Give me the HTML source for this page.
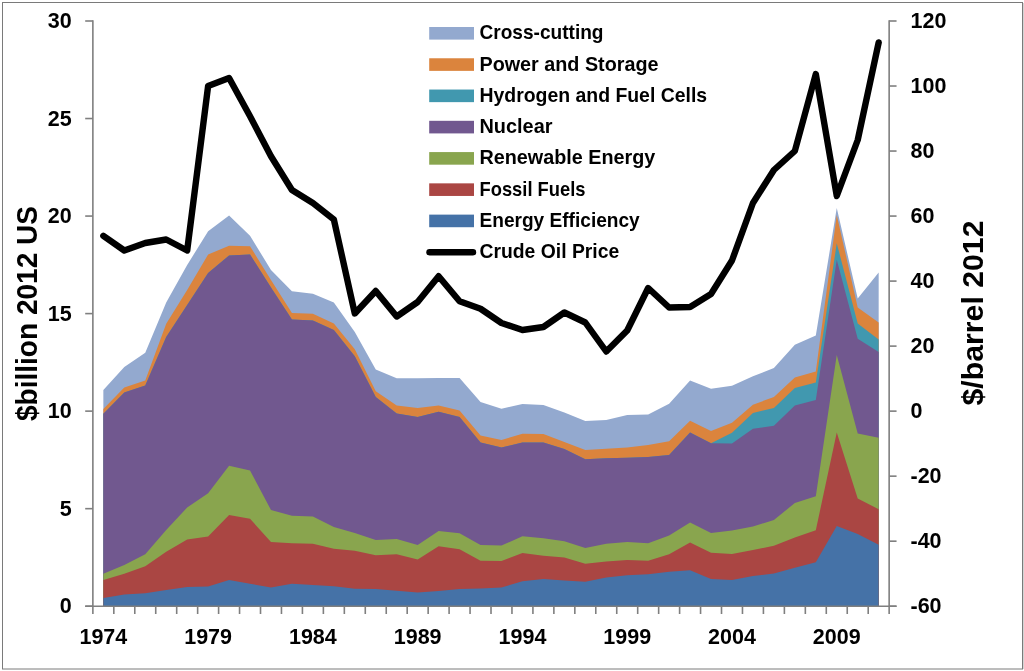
<!DOCTYPE html>
<html><head><meta charset="utf-8"><style>
html,body{margin:0;padding:0;background:#fff;}
body{width:1024px;height:671px;overflow:hidden;font-family:"Liberation Sans",sans-serif;}
svg{display:block;will-change:transform;}
</style></head><body>
<svg width="1024" height="671" viewBox="0 0 1024 671">
<rect x="0" y="0" width="1024" height="671" fill="#fff"/>
<rect x="2.5" y="2.5" width="1020" height="666.5" fill="#fff" stroke="#7a7a7a" stroke-width="1"/>
<rect x="1023" y="3" width="1" height="666" fill="#d4d4d4"/>
<path d="M103.35 390 L124.3 367 L145.26 352.75 L166.21 302.5 L187.17 265 L208.12 231.25 L229.08 215.5 L250.03 235.75 L270.99 270 L291.94 291.25 L312.89 293.75 L333.85 302.5 L354.8 332 L375.76 369.5 L396.71 378.25 L417.67 378.25 L438.62 378 L459.58 378 L480.53 402 L501.49 408.75 L522.44 404 L543.4 405 L564.35 412.5 L585.31 421 L606.26 420 L627.22 415 L648.17 414.5 L669.13 403.75 L690.08 380.5 L711.03 388.75 L731.99 385.75 L752.94 376.25 L773.9 368 L794.85 344.8 L815.81 335.6 L836.76 208.1 L857.72 298.6 L878.67 272.5 L878.67 606.2 L103.35 606.2Z" fill="#93A9CF"/>
<path d="M103.35 409 L124.3 387.5 L145.26 380.5 L166.21 323.75 L187.17 290 L208.12 254.5 L229.08 245.75 L250.03 246.25 L270.99 280 L291.94 313 L312.89 313.75 L333.85 323.5 L354.8 349.3 L375.76 391.25 L396.71 405.5 L417.67 408 L438.62 405.5 L459.58 410.5 L480.53 435.5 L501.49 440 L522.44 433.75 L543.4 434 L564.35 442 L585.31 450 L606.26 448.75 L627.22 447.5 L648.17 445 L669.13 441.25 L690.08 420.75 L711.03 431 L731.99 422.7 L752.94 404.7 L773.9 397 L794.85 377.5 L815.81 371.6 L836.76 215.1 L857.72 307.5 L878.67 322.5 L878.67 606.2 L103.35 606.2Z" fill="#DB843D"/>
<path d="M103.35 413.75 L124.3 392.5 L145.26 385.5 L166.21 337 L187.17 305 L208.12 273 L229.08 255.5 L250.03 254.5 L270.99 287.5 L291.94 319.5 L312.89 320.5 L333.85 330 L354.8 356.25 L375.76 397 L396.71 413.5 L417.67 417 L438.62 411.75 L459.58 417 L480.53 442.5 L501.49 447.5 L522.44 442.5 L543.4 442.5 L564.35 449 L585.31 459.3 L606.26 458.25 L627.22 457.75 L648.17 457 L669.13 455 L690.08 432.5 L711.03 443.2 L731.99 432.7 L752.94 413 L773.9 408 L794.85 388 L815.81 382.5 L836.76 243.3 L857.72 323.6 L878.67 339.4 L878.67 606.2 L103.35 606.2Z" fill="#4198AF"/>
<path d="M103.35 413.75 L124.3 392.5 L145.26 385.5 L166.21 337 L187.17 305 L208.12 273 L229.08 255.5 L250.03 254.5 L270.99 287.5 L291.94 319.5 L312.89 320.5 L333.85 330 L354.8 356.25 L375.76 397 L396.71 413.5 L417.67 417 L438.62 411.75 L459.58 417 L480.53 442.5 L501.49 447.5 L522.44 442.5 L543.4 442.5 L564.35 449 L585.31 459.3 L606.26 458.25 L627.22 457.75 L648.17 457 L669.13 455 L690.08 432.5 L711.03 443.2 L731.99 443.4 L752.94 428.75 L773.9 425.75 L794.85 405.5 L815.81 400 L836.76 259.8 L857.72 338.8 L878.67 351.9 L878.67 606.2 L103.35 606.2Z" fill="#71588F"/>
<path d="M103.35 573.75 L124.3 565 L145.26 554.25 L166.21 530 L187.17 507.5 L208.12 493.25 L229.08 465.75 L250.03 470.5 L270.99 510 L291.94 515.75 L312.89 516.5 L333.85 527 L354.8 533 L375.76 540 L396.71 539 L417.67 545 L438.62 531 L459.58 533.25 L480.53 545 L501.49 545.5 L522.44 536.25 L543.4 538.25 L564.35 541.25 L585.31 548 L606.26 543.75 L627.22 542 L648.17 543.25 L669.13 535.5 L690.08 522.5 L711.03 533 L731.99 530.5 L752.94 526.5 L773.9 520 L794.85 503 L815.81 496.2 L836.76 355.1 L857.72 433.4 L878.67 437.8 L878.67 606.2 L103.35 606.2Z" fill="#89A54E"/>
<path d="M103.35 580 L124.3 573.75 L145.26 566.25 L166.21 551.75 L187.17 539.5 L208.12 536.5 L229.08 515 L250.03 518.75 L270.99 542 L291.94 543.25 L312.89 543.75 L333.85 548.75 L354.8 550.75 L375.76 555.25 L396.71 554.25 L417.67 559.5 L438.62 546.25 L459.58 549.25 L480.53 560.75 L501.49 561 L522.44 553 L543.4 555.75 L564.35 557.5 L585.31 563.75 L606.26 561.5 L627.22 560 L648.17 560.75 L669.13 554.25 L690.08 542.5 L711.03 552.75 L731.99 554 L752.94 550 L773.9 545.7 L794.85 537.5 L815.81 530.2 L836.76 432.5 L857.72 498.4 L878.67 509.2 L878.67 606.2 L103.35 606.2Z" fill="#AA4643"/>
<path d="M103.35 598 L124.3 594.5 L145.26 593.25 L166.21 590 L187.17 587 L208.12 586.5 L229.08 580 L250.03 583.75 L270.99 587.5 L291.94 583.75 L312.89 585 L333.85 586.25 L354.8 588.75 L375.76 589 L396.71 590.75 L417.67 592.5 L438.62 591 L459.58 589 L480.53 588.5 L501.49 587.5 L522.44 581.25 L543.4 579 L564.35 580.5 L585.31 581.75 L606.26 577.5 L627.22 575.25 L648.17 574.25 L669.13 571.75 L690.08 570.25 L711.03 579 L731.99 580 L752.94 576 L773.9 573.5 L794.85 567.7 L815.81 562.2 L836.76 526 L857.72 534 L878.67 544.8 L878.67 606.2 L103.35 606.2Z" fill="#4572A7"/>
<line x1="92.87" y1="20.2" x2="92.87" y2="607" stroke="#7f7f7f" stroke-width="1.6"/>
<line x1="889.15" y1="20.2" x2="889.15" y2="607" stroke="#7f7f7f" stroke-width="1.6"/>
<line x1="85.2" y1="606.2" x2="896.55" y2="606.2" stroke="#7f7f7f" stroke-width="1.6"/>
<line x1="85.2" y1="606.2" x2="92.87" y2="606.2" stroke="#7f7f7f" stroke-width="1.6"/>
<line x1="85.2" y1="508.67" x2="92.87" y2="508.67" stroke="#7f7f7f" stroke-width="1.6"/>
<line x1="85.2" y1="411.13" x2="92.87" y2="411.13" stroke="#7f7f7f" stroke-width="1.6"/>
<line x1="85.2" y1="313.6" x2="92.87" y2="313.6" stroke="#7f7f7f" stroke-width="1.6"/>
<line x1="85.2" y1="216.07" x2="92.87" y2="216.07" stroke="#7f7f7f" stroke-width="1.6"/>
<line x1="85.2" y1="118.53" x2="92.87" y2="118.53" stroke="#7f7f7f" stroke-width="1.6"/>
<line x1="85.2" y1="21" x2="92.87" y2="21" stroke="#7f7f7f" stroke-width="1.6"/>
<line x1="889.15" y1="606.2" x2="896.55" y2="606.2" stroke="#7f7f7f" stroke-width="1.6"/>
<line x1="889.15" y1="541.18" x2="896.55" y2="541.18" stroke="#7f7f7f" stroke-width="1.6"/>
<line x1="889.15" y1="476.16" x2="896.55" y2="476.16" stroke="#7f7f7f" stroke-width="1.6"/>
<line x1="889.15" y1="411.13" x2="896.55" y2="411.13" stroke="#7f7f7f" stroke-width="1.6"/>
<line x1="889.15" y1="346.11" x2="896.55" y2="346.11" stroke="#7f7f7f" stroke-width="1.6"/>
<line x1="889.15" y1="281.09" x2="896.55" y2="281.09" stroke="#7f7f7f" stroke-width="1.6"/>
<line x1="889.15" y1="216.07" x2="896.55" y2="216.07" stroke="#7f7f7f" stroke-width="1.6"/>
<line x1="889.15" y1="151.04" x2="896.55" y2="151.04" stroke="#7f7f7f" stroke-width="1.6"/>
<line x1="889.15" y1="86.02" x2="896.55" y2="86.02" stroke="#7f7f7f" stroke-width="1.6"/>
<line x1="889.15" y1="21" x2="896.55" y2="21" stroke="#7f7f7f" stroke-width="1.6"/>
<line x1="92.87" y1="606.2" x2="92.87" y2="614" stroke="#7f7f7f" stroke-width="1.6"/>
<line x1="113.82" y1="606.2" x2="113.82" y2="614" stroke="#7f7f7f" stroke-width="1.6"/>
<line x1="134.78" y1="606.2" x2="134.78" y2="614" stroke="#7f7f7f" stroke-width="1.6"/>
<line x1="155.73" y1="606.2" x2="155.73" y2="614" stroke="#7f7f7f" stroke-width="1.6"/>
<line x1="176.69" y1="606.2" x2="176.69" y2="614" stroke="#7f7f7f" stroke-width="1.6"/>
<line x1="197.64" y1="606.2" x2="197.64" y2="614" stroke="#7f7f7f" stroke-width="1.6"/>
<line x1="218.6" y1="606.2" x2="218.6" y2="614" stroke="#7f7f7f" stroke-width="1.6"/>
<line x1="239.55" y1="606.2" x2="239.55" y2="614" stroke="#7f7f7f" stroke-width="1.6"/>
<line x1="260.51" y1="606.2" x2="260.51" y2="614" stroke="#7f7f7f" stroke-width="1.6"/>
<line x1="281.46" y1="606.2" x2="281.46" y2="614" stroke="#7f7f7f" stroke-width="1.6"/>
<line x1="302.42" y1="606.2" x2="302.42" y2="614" stroke="#7f7f7f" stroke-width="1.6"/>
<line x1="323.37" y1="606.2" x2="323.37" y2="614" stroke="#7f7f7f" stroke-width="1.6"/>
<line x1="344.33" y1="606.2" x2="344.33" y2="614" stroke="#7f7f7f" stroke-width="1.6"/>
<line x1="365.28" y1="606.2" x2="365.28" y2="614" stroke="#7f7f7f" stroke-width="1.6"/>
<line x1="386.24" y1="606.2" x2="386.24" y2="614" stroke="#7f7f7f" stroke-width="1.6"/>
<line x1="407.19" y1="606.2" x2="407.19" y2="614" stroke="#7f7f7f" stroke-width="1.6"/>
<line x1="428.15" y1="606.2" x2="428.15" y2="614" stroke="#7f7f7f" stroke-width="1.6"/>
<line x1="449.1" y1="606.2" x2="449.1" y2="614" stroke="#7f7f7f" stroke-width="1.6"/>
<line x1="470.06" y1="606.2" x2="470.06" y2="614" stroke="#7f7f7f" stroke-width="1.6"/>
<line x1="491.01" y1="606.2" x2="491.01" y2="614" stroke="#7f7f7f" stroke-width="1.6"/>
<line x1="511.96" y1="606.2" x2="511.96" y2="614" stroke="#7f7f7f" stroke-width="1.6"/>
<line x1="532.92" y1="606.2" x2="532.92" y2="614" stroke="#7f7f7f" stroke-width="1.6"/>
<line x1="553.87" y1="606.2" x2="553.87" y2="614" stroke="#7f7f7f" stroke-width="1.6"/>
<line x1="574.83" y1="606.2" x2="574.83" y2="614" stroke="#7f7f7f" stroke-width="1.6"/>
<line x1="595.78" y1="606.2" x2="595.78" y2="614" stroke="#7f7f7f" stroke-width="1.6"/>
<line x1="616.74" y1="606.2" x2="616.74" y2="614" stroke="#7f7f7f" stroke-width="1.6"/>
<line x1="637.69" y1="606.2" x2="637.69" y2="614" stroke="#7f7f7f" stroke-width="1.6"/>
<line x1="658.65" y1="606.2" x2="658.65" y2="614" stroke="#7f7f7f" stroke-width="1.6"/>
<line x1="679.6" y1="606.2" x2="679.6" y2="614" stroke="#7f7f7f" stroke-width="1.6"/>
<line x1="700.56" y1="606.2" x2="700.56" y2="614" stroke="#7f7f7f" stroke-width="1.6"/>
<line x1="721.51" y1="606.2" x2="721.51" y2="614" stroke="#7f7f7f" stroke-width="1.6"/>
<line x1="742.47" y1="606.2" x2="742.47" y2="614" stroke="#7f7f7f" stroke-width="1.6"/>
<line x1="763.42" y1="606.2" x2="763.42" y2="614" stroke="#7f7f7f" stroke-width="1.6"/>
<line x1="784.38" y1="606.2" x2="784.38" y2="614" stroke="#7f7f7f" stroke-width="1.6"/>
<line x1="805.33" y1="606.2" x2="805.33" y2="614" stroke="#7f7f7f" stroke-width="1.6"/>
<line x1="826.29" y1="606.2" x2="826.29" y2="614" stroke="#7f7f7f" stroke-width="1.6"/>
<line x1="847.24" y1="606.2" x2="847.24" y2="614" stroke="#7f7f7f" stroke-width="1.6"/>
<line x1="868.2" y1="606.2" x2="868.2" y2="614" stroke="#7f7f7f" stroke-width="1.6"/>
<line x1="889.15" y1="606.2" x2="889.15" y2="614" stroke="#7f7f7f" stroke-width="1.6"/>
<path d="M103.35 235.9 L124.3 250.5 L145.26 243 L166.21 239.5 L187.17 250.5 L208.12 86 L229.08 78 L250.03 116.25 L270.99 156.25 L291.94 190 L312.89 203 L333.85 219.5 L354.8 313.5 L375.76 291 L396.71 316.5 L417.67 302 L438.62 276.25 L459.58 301.25 L480.53 308.75 L501.49 323 L522.44 330 L543.4 327 L564.35 312.5 L585.31 322.5 L606.26 351.5 L627.22 330.5 L648.17 288 L669.13 307.5 L690.08 307 L711.03 294 L731.99 260.5 L752.94 203 L773.9 170 L794.85 151 L815.81 74 L836.76 196 L857.72 140 L878.67 42.5" fill="none" stroke="#000" stroke-width="6.4" stroke-linejoin="round" stroke-linecap="round"/>
<text x="71.6" y="613.2" text-anchor="end" font-family="Liberation Sans, sans-serif" font-weight="bold" font-size="21.5">0</text>
<text x="71.6" y="515.67" text-anchor="end" font-family="Liberation Sans, sans-serif" font-weight="bold" font-size="21.5">5</text>
<text x="71.6" y="418.13" text-anchor="end" font-family="Liberation Sans, sans-serif" font-weight="bold" font-size="21.5">10</text>
<text x="71.6" y="320.6" text-anchor="end" font-family="Liberation Sans, sans-serif" font-weight="bold" font-size="21.5">15</text>
<text x="71.6" y="223.07" text-anchor="end" font-family="Liberation Sans, sans-serif" font-weight="bold" font-size="21.5">20</text>
<text x="71.6" y="125.53" text-anchor="end" font-family="Liberation Sans, sans-serif" font-weight="bold" font-size="21.5">25</text>
<text x="71.6" y="28" text-anchor="end" font-family="Liberation Sans, sans-serif" font-weight="bold" font-size="21.5">30</text>
<text x="910.5" y="613.2" font-family="Liberation Sans, sans-serif" font-weight="bold" font-size="21.5">-60</text>
<text x="910.5" y="548.18" font-family="Liberation Sans, sans-serif" font-weight="bold" font-size="21.5">-40</text>
<text x="910.5" y="483.16" font-family="Liberation Sans, sans-serif" font-weight="bold" font-size="21.5">-20</text>
<text x="910.5" y="418.13" font-family="Liberation Sans, sans-serif" font-weight="bold" font-size="21.5">0</text>
<text x="910.5" y="353.11" font-family="Liberation Sans, sans-serif" font-weight="bold" font-size="21.5">20</text>
<text x="910.5" y="288.09" font-family="Liberation Sans, sans-serif" font-weight="bold" font-size="21.5">40</text>
<text x="910.5" y="223.07" font-family="Liberation Sans, sans-serif" font-weight="bold" font-size="21.5">60</text>
<text x="910.5" y="158.04" font-family="Liberation Sans, sans-serif" font-weight="bold" font-size="21.5">80</text>
<text x="910.5" y="93.02" font-family="Liberation Sans, sans-serif" font-weight="bold" font-size="21.5">100</text>
<text x="910.5" y="28" font-family="Liberation Sans, sans-serif" font-weight="bold" font-size="21.5">120</text>
<text x="103.35" y="644" text-anchor="middle" font-family="Liberation Sans, sans-serif" font-weight="bold" font-size="21.5">1974</text>
<text x="208.12" y="644" text-anchor="middle" font-family="Liberation Sans, sans-serif" font-weight="bold" font-size="21.5">1979</text>
<text x="312.89" y="644" text-anchor="middle" font-family="Liberation Sans, sans-serif" font-weight="bold" font-size="21.5">1984</text>
<text x="417.67" y="644" text-anchor="middle" font-family="Liberation Sans, sans-serif" font-weight="bold" font-size="21.5">1989</text>
<text x="522.44" y="644" text-anchor="middle" font-family="Liberation Sans, sans-serif" font-weight="bold" font-size="21.5">1994</text>
<text x="627.22" y="644" text-anchor="middle" font-family="Liberation Sans, sans-serif" font-weight="bold" font-size="21.5">1999</text>
<text x="731.99" y="644" text-anchor="middle" font-family="Liberation Sans, sans-serif" font-weight="bold" font-size="21.5">2004</text>
<text x="836.76" y="644" text-anchor="middle" font-family="Liberation Sans, sans-serif" font-weight="bold" font-size="21.5">2009</text>
<text transform="translate(37 313.5) rotate(-90)" text-anchor="middle" font-family="Liberation Sans, sans-serif" font-weight="bold" font-size="29.5" textLength="215" lengthAdjust="spacingAndGlyphs">$billion 2012 US</text>
<text transform="translate(983 313) rotate(-90)" text-anchor="middle" font-family="Liberation Sans, sans-serif" font-weight="bold" font-size="29.5" textLength="185" lengthAdjust="spacingAndGlyphs">$/barrel 2012</text>
<rect x="429.2" y="27" width="44.8" height="12.6" fill="#93A9CF"/>
<text x="479.5" y="39.4" font-family="Liberation Sans, sans-serif" font-weight="bold" font-size="21" textLength="124" lengthAdjust="spacingAndGlyphs">Cross-cutting</text>
<rect x="429.2" y="58.27" width="44.8" height="12.6" fill="#DB843D"/>
<text x="479.5" y="70.67" font-family="Liberation Sans, sans-serif" font-weight="bold" font-size="21" textLength="179" lengthAdjust="spacingAndGlyphs">Power and Storage</text>
<rect x="429.2" y="89.54" width="44.8" height="12.6" fill="#4198AF"/>
<text x="479.5" y="101.94" font-family="Liberation Sans, sans-serif" font-weight="bold" font-size="21" textLength="227.6" lengthAdjust="spacingAndGlyphs">Hydrogen and Fuel Cells</text>
<rect x="429.2" y="120.81" width="44.8" height="12.6" fill="#71588F"/>
<text x="479.5" y="133.21" font-family="Liberation Sans, sans-serif" font-weight="bold" font-size="21" textLength="73" lengthAdjust="spacingAndGlyphs">Nuclear</text>
<rect x="429.2" y="152.08" width="44.8" height="12.6" fill="#89A54E"/>
<text x="479.5" y="164.48" font-family="Liberation Sans, sans-serif" font-weight="bold" font-size="21" textLength="175.8" lengthAdjust="spacingAndGlyphs">Renewable Energy</text>
<rect x="429.2" y="183.35" width="44.8" height="12.6" fill="#AA4643"/>
<text x="479.5" y="195.75" font-family="Liberation Sans, sans-serif" font-weight="bold" font-size="21" textLength="106" lengthAdjust="spacingAndGlyphs">Fossil Fuels</text>
<rect x="429.2" y="214.62" width="44.8" height="12.6" fill="#4572A7"/>
<text x="479.5" y="227.02" font-family="Liberation Sans, sans-serif" font-weight="bold" font-size="21" textLength="160.2" lengthAdjust="spacingAndGlyphs">Energy Efficiency</text>
<line x1="429.5" y1="252.19" x2="473" y2="252.19" stroke="#000" stroke-width="6.4" stroke-linecap="round"/>
<text x="479.5" y="258.29" font-family="Liberation Sans, sans-serif" font-weight="bold" font-size="21" textLength="139.7" lengthAdjust="spacingAndGlyphs">Crude Oil Price</text>
</svg>
</body></html>
